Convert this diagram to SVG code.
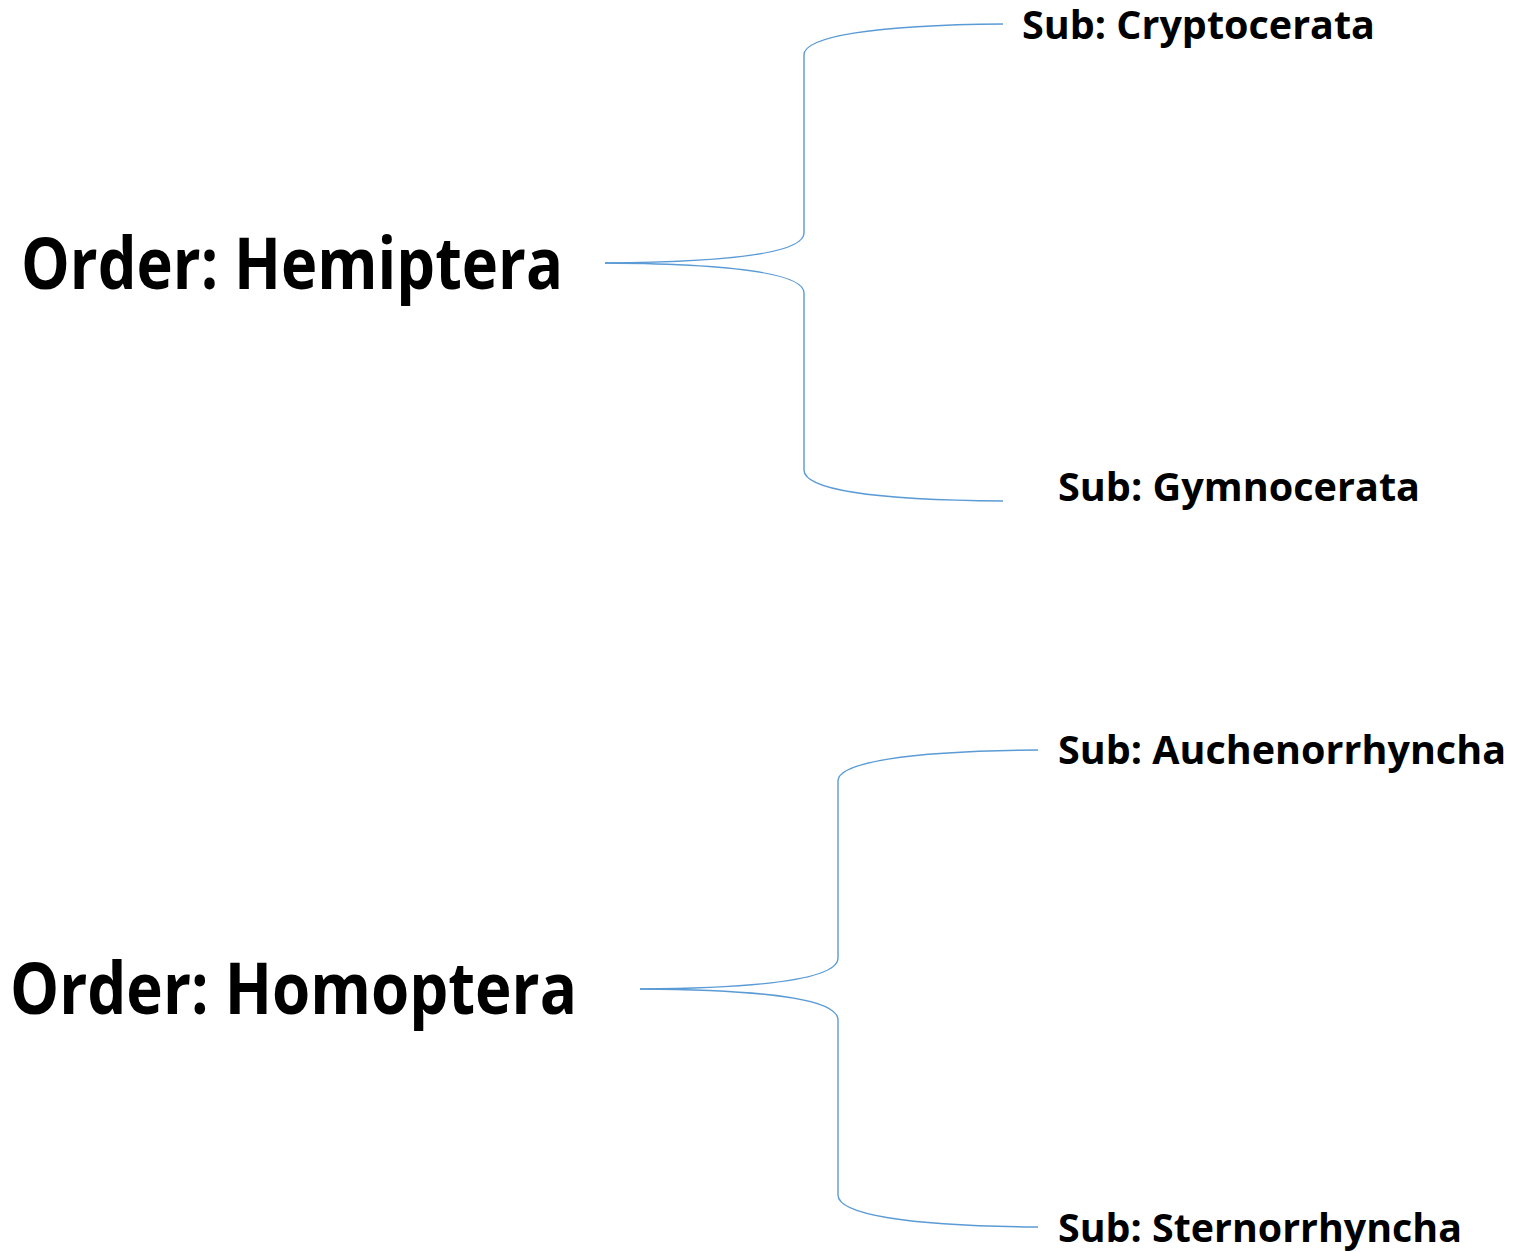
<svg xmlns="http://www.w3.org/2000/svg" width="1517" height="1252" viewBox="0 0 1517 1252">
<style>
.big{font-family:"Open Sans","Liberation Sans",sans-serif;font-weight:bold;font-size:72px;fill:#000}
.sub{font-family:"Open Sans","Liberation Sans",sans-serif;font-weight:bold;font-size:39px;fill:#000}
.br{fill:none;stroke:#5B9BD5;stroke-width:1.4}
</style>
<rect width="1517" height="1252" fill="#fff"/>
<g id="connectors">
<path class="br" d="M1003,24 C870,25 804,37 804,55 L804,233 C804,252 740,262 605,263"/>
<path class="br" d="M605,263 C740,264 804,274 804,293 L804,470 C804,489 870,500 1003,501"/>
<path class="br" d="M1038,750 C905,751 838,763 838,781 L838,958 C838,977 775,988 640,989"/>
<path class="br" d="M640,989 C775,990 838,1000 838,1020 L838,1195 C838,1214 905,1226 1038,1227"/>
</g>
<g id="hemiptera"><text class="big" x="21" y="289" textLength="542" lengthAdjust="spacingAndGlyphs">Order: Hemiptera</text></g>
<g id="homoptera"><text class="big" x="10" y="1014" textLength="567" lengthAdjust="spacingAndGlyphs">Order: Homoptera</text></g>
<g id="cryptocerata"><text class="sub" x="1022" y="39" textLength="353" lengthAdjust="spacingAndGlyphs">Sub: Cryptocerata</text></g>
<g id="gymnocerata"><text class="sub" x="1058" y="501" textLength="362" lengthAdjust="spacingAndGlyphs">Sub: Gymnocerata</text></g>
<g id="auchenorrhyncha"><text class="sub" x="1058" y="764" textLength="448" lengthAdjust="spacingAndGlyphs">Sub: Auchenorrhyncha</text></g>
<g id="sternorrhyncha"><text class="sub" x="1058" y="1242" textLength="404" lengthAdjust="spacingAndGlyphs">Sub: Sternorrhyncha</text></g>
</svg>
